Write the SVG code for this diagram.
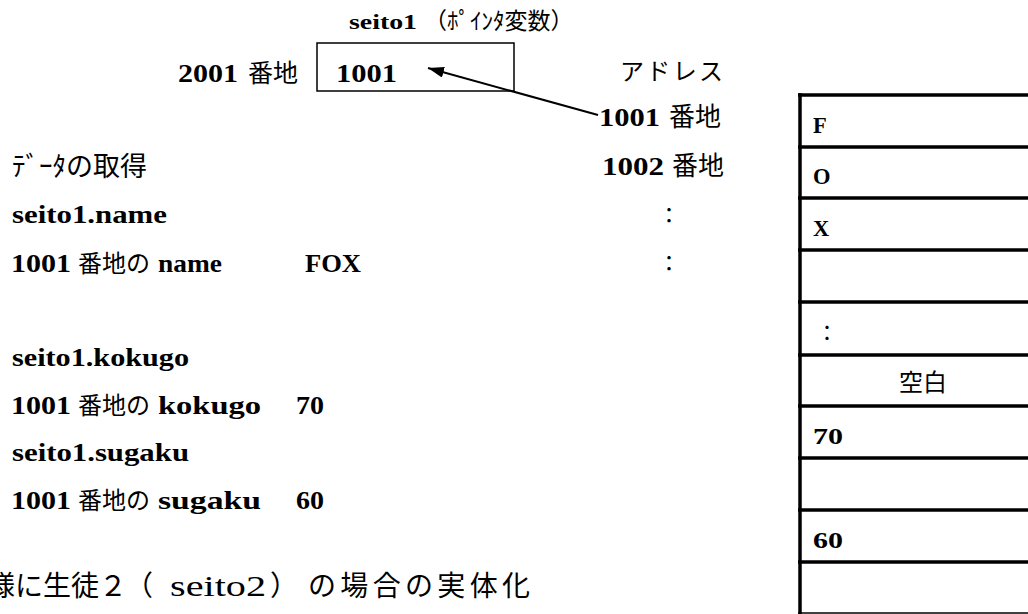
<svg xmlns="http://www.w3.org/2000/svg" width="1028" height="614" viewBox="0 0 1028 614">
<style>
  .L { font-family: "Liberation Serif", "DejaVu Serif", serif; font-weight: bold; font-size: 26px; fill: #000; }
  .J { font-family: "Noto Sans CJK JP", sans-serif; font-weight: normal; font-size: 24px; fill: #000; }
  .cell { font-size: 22.5px; }
  .rule { stroke: #000; stroke-width: 3.5; fill: none; }
  .box { stroke: #000; stroke-width: 1.5; fill: #fff; }
  .conn { stroke: #000; stroke-width: 2; fill: none; }
</style>
<defs>
  <marker id="arrow" viewBox="0 0 16 11" refX="16" refY="5.5" markerWidth="16" markerHeight="11" markerUnits="userSpaceOnUse" orient="auto">
    <path d="M0,0 L16,5.5 L0,11 z" fill="#000"/>
  </marker>
</defs>
<rect width="1028" height="614" fill="#fff"/>

<g id="pointer-seito1">
  <text class="L" x="349" y="29" style="font-size:22px" textLength="68" lengthAdjust="spacingAndGlyphs">seito1</text>
  <text class="J" x="424" y="29" style="font-size:23px">（ﾎﾟｲﾝﾀ変数）</text>
  <text class="L" x="178" y="82" textLength="60" lengthAdjust="spacingAndGlyphs">2001</text>
  <text class="J" x="248" y="82" style="font-size:25px">番地</text>
  <rect class="box" x="317" y="43" width="197" height="48"/>
  <text class="L" x="336" y="82" textLength="61" lengthAdjust="spacingAndGlyphs">1001</text>
</g>

<g id="address-column">
  <text class="J" x="620" y="80" textLength="103">アドレス</text>
  <text class="L" x="599" y="126" textLength="61" lengthAdjust="spacingAndGlyphs">1001</text>
  <text class="J" x="669" y="126" style="font-size:26px">番地</text>
  <text class="L" x="602" y="175" textLength="62" lengthAdjust="spacingAndGlyphs">1002</text>
  <text class="J" x="672" y="175" style="font-size:26px">番地</text>
  <text class="J" x="669" y="222.5" text-anchor="middle" style="font-size:22px">：</text>
  <text class="J" x="669" y="270.5" text-anchor="middle" style="font-size:22px">：</text>
</g>

<g id="data-access">
  <text class="J" x="12" y="176" style="font-size:27px">ﾃﾞｰﾀの取得</text>
  <text class="L" x="12" y="223" textLength="155" lengthAdjust="spacingAndGlyphs">seito1.name</text>
  <text class="L" x="11" y="272" textLength="60" lengthAdjust="spacingAndGlyphs">1001</text>
  <text class="J" x="78" y="272">番地の</text>
  <text class="L" x="158" y="272" textLength="64" lengthAdjust="spacingAndGlyphs">name</text>
  <text class="L" x="305" y="272" textLength="56" lengthAdjust="spacingAndGlyphs">FOX</text>
  <text class="L" x="12" y="366" textLength="177" lengthAdjust="spacingAndGlyphs">seito1.kokugo</text>
  <text class="L" x="11" y="414" textLength="60" lengthAdjust="spacingAndGlyphs">1001</text>
  <text class="J" x="78" y="414">番地の</text>
  <text class="L" x="158" y="414" textLength="103" lengthAdjust="spacingAndGlyphs">kokugo</text>
  <text class="L" x="296" y="414" textLength="28" lengthAdjust="spacingAndGlyphs">70</text>
  <text class="L" x="12" y="461" textLength="177" lengthAdjust="spacingAndGlyphs">seito1.sugaku</text>
  <text class="L" x="11" y="509" textLength="60" lengthAdjust="spacingAndGlyphs">1001</text>
  <text class="J" x="78" y="509">番地の</text>
  <text class="L" x="158" y="509" textLength="103" lengthAdjust="spacingAndGlyphs">sugaku</text>
  <text class="L" x="296" y="509" textLength="28" lengthAdjust="spacingAndGlyphs">60</text>
</g>

<g id="footer">
  <text class="J" x="-13" y="596" style="font-size:28px">様に生徒２</text>
  <text class="J" x="125" y="596" style="font-size:28px">（</text>
  <text class="L" x="170" y="596" style="font-weight:normal;font-size:30px" textLength="96" lengthAdjust="spacingAndGlyphs">seito2</text>
  <text class="J" x="270" y="596" style="font-size:28px">）</text>
  <text class="J" x="308" y="596" style="font-size:28px" textLength="222">の場合の実体化</text>
</g>

<g id="memory-table">
  <line class="rule" x1="800" y1="93.3" x2="800" y2="614"/>
  <line class="rule" x1="798" y1="95" x2="1028" y2="95"/>
  <line class="rule" x1="798" y1="147" x2="1028" y2="147"/>
  <line class="rule" x1="798" y1="198" x2="1028" y2="198"/>
  <line class="rule" x1="798" y1="250" x2="1028" y2="250"/>
  <line class="rule" x1="798" y1="302" x2="1028" y2="302"/>
  <line class="rule" x1="798" y1="355" x2="1028" y2="355"/>
  <line class="rule" x1="798" y1="406" x2="1028" y2="406"/>
  <line class="rule" x1="798" y1="458" x2="1028" y2="458"/>
  <line class="rule" x1="798" y1="510" x2="1028" y2="510"/>
  <line class="rule" x1="798" y1="562" x2="1028" y2="562"/>
  <line x1="798" y1="613" x2="1028" y2="613" stroke="#000" stroke-width="1.5"/>
  <text class="L cell" x="813" y="133">F</text>
  <text class="L cell" x="813" y="184">O</text>
  <text class="L cell" x="813" y="236">X</text>
  <text class="J" x="827" y="340" text-anchor="middle" style="font-size:21px">：</text>
  <text class="J" x="923" y="391" text-anchor="middle" style="font-size:24px">空白</text>
  <text class="L cell" x="813" y="444" textLength="30" lengthAdjust="spacingAndGlyphs">70</text>
  <text class="L cell" x="813" y="548" textLength="30" lengthAdjust="spacingAndGlyphs">60</text>
</g>

<g id="connectors">
  <line class="conn" x1="598" y1="115" x2="428" y2="68" marker-end="url(#arrow)"/>
</g>
</svg>
